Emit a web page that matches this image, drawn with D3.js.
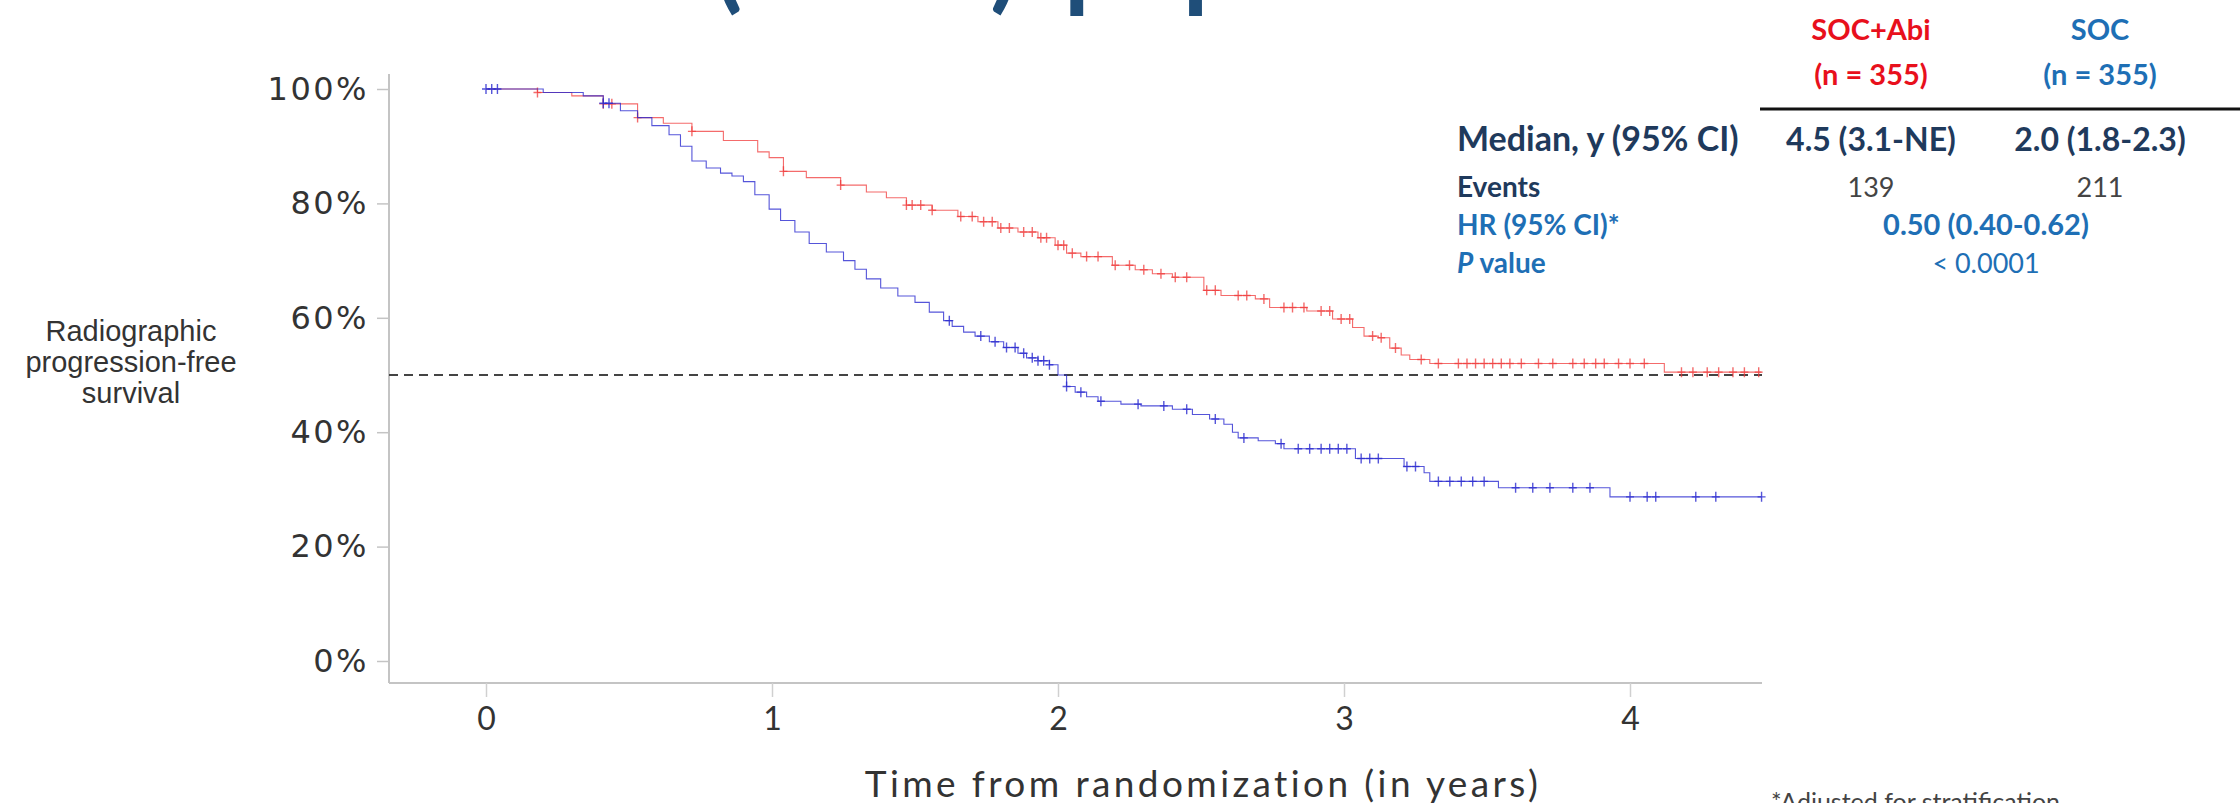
<!DOCTYPE html>
<html>
<head>
<meta charset="utf-8">
<script src="https://cdn.jsdelivr.net/npm/d3@7"></script>
<style>
  html, body { margin: 0; padding: 0; background: #fff; }
  svg { display: block; }
</style>
</head>
<body>
<svg id="chart" width="2240" height="803"></svg>
<script>
// KM curves (time in years, survival fraction)
const abiTimes = [0, 0.18, 0.30, 0.41, 0.53, 0.62, 0.72, 0.83, 0.95, 0.99, 1.04, 1.12, 1.24, 1.33, 1.40, 1.47, 1.56, 1.65, 1.72, 1.79, 1.86, 1.93, 1.99, 2.03, 2.08, 2.19, 2.27, 2.33, 2.40, 2.51, 2.57, 2.69, 2.74, 2.87, 2.96, 3.03, 3.07, 3.12, 3.16, 3.20, 3.23, 3.30, 4.12, 4.46];
const abiSurv  = [1, 0.994, 0.988, 0.974, 0.95, 0.94, 0.926, 0.91, 0.89, 0.88, 0.856, 0.845, 0.832, 0.82, 0.81, 0.797, 0.788, 0.777, 0.768, 0.757, 0.75, 0.74, 0.727, 0.713, 0.707, 0.692, 0.684, 0.677, 0.671, 0.648, 0.639, 0.633, 0.618, 0.612, 0.598, 0.583, 0.568, 0.565, 0.547, 0.535, 0.527, 0.52, 0.505, 0.505];
const abiCensor = [0.18, 0.41, 0.44, 0.53, 0.72, 1.04, 1.24, 1.47, 1.49, 1.52, 1.56, 1.66, 1.70, 1.74, 1.77, 1.80, 1.83, 1.88, 1.91, 1.94, 1.96, 2.0, 2.02, 2.05, 2.1, 2.14, 2.2, 2.25, 2.3, 2.36, 2.41, 2.45, 2.52, 2.55, 2.63, 2.66, 2.72, 2.79, 2.82, 2.86, 2.92, 2.95, 2.99, 3.02, 3.10, 3.13, 3.18, 3.27, 3.33, 3.40, 3.43, 3.46, 3.49, 3.52, 3.55, 3.58, 3.62, 3.68, 3.73, 3.80, 3.84, 3.88, 3.91, 3.96, 4.0, 4.05, 4.18, 4.22, 4.27, 4.31, 4.36, 4.40, 4.45];

const socTimes = [0, 0.20, 0.34, 0.41, 0.47, 0.53, 0.58, 0.64, 0.68, 0.72, 0.77, 0.82, 0.86, 0.90, 0.94, 0.99, 1.03, 1.08, 1.13, 1.19, 1.25, 1.29, 1.33, 1.38, 1.44, 1.50, 1.55, 1.60, 1.63, 1.67, 1.71, 1.76, 1.81, 1.86, 1.89, 1.93, 1.97, 2.00, 2.03, 2.06, 2.10, 2.14, 2.22, 2.29, 2.40, 2.47, 2.53, 2.58, 2.61, 2.63, 2.70, 2.76, 2.79, 3.04, 3.21, 3.28, 3.30, 3.54, 3.93, 4.46];
const socSurv  = [1, 0.994, 0.988, 0.975, 0.962, 0.95, 0.936, 0.92, 0.90, 0.874, 0.862, 0.853, 0.848, 0.838, 0.815, 0.79, 0.77, 0.75, 0.73, 0.715, 0.70, 0.685, 0.668, 0.652, 0.638, 0.627, 0.61, 0.595, 0.585, 0.575, 0.568, 0.558, 0.548, 0.538, 0.53, 0.525, 0.518, 0.50, 0.48, 0.47, 0.462, 0.454, 0.449, 0.446, 0.44, 0.431, 0.423, 0.414, 0.40, 0.39, 0.385, 0.38, 0.371, 0.354, 0.34, 0.329, 0.314, 0.303, 0.287, 0.287];
const socCensor = [0.0, 0.02, 0.04, 0.41, 0.43, 1.62, 1.73, 1.78, 1.82, 1.85, 1.88, 1.91, 1.93, 1.95, 1.97, 2.03, 2.08, 2.15, 2.28, 2.37, 2.45, 2.55, 2.65, 2.78, 2.84, 2.88, 2.92, 2.95, 2.98, 3.01, 3.06, 3.09, 3.12, 3.22, 3.25, 3.33, 3.37, 3.41, 3.45, 3.49, 3.60, 3.66, 3.72, 3.80, 3.86, 4.0, 4.06, 4.09, 4.23, 4.30, 4.46];

const xTicks = [0, 1, 2, 3, 4];
const yTicks = [0, 0.2, 0.4, 0.6, 0.8, 1.0];
const medianLine = 0.5;

const tableHead = ["SOC+Abi", "SOC"];
const tableN = ["(n = 355)", "(n = 355)"];
const medians = ["4.5 (3.1-NE)", "2.0 (1.8-2.3)"];
const events = ["139", "211"];
const hrText = "0.50 (0.40-0.62)";
const pText = "< 0.0001";

const red = "#e8101c", blue = "#1e6fb5", navy = "#1f3a5c";

const svg = d3.select("#chart");
svg.append("rect").attr("width", 2240).attr("height", 803).attr("fill", "#fff");

const x = d3.scaleLinear().domain([0, 4]).range([486, 1630]);
const y = d3.scaleLinear().domain([0, 1]).range([661, 89]);
const axLeft = 389, axRight = 1762, axTop = 74, axBottom = 683;

// cut-off title at the very top: only the descenders show
const title = svg.append("g").attr("fill", "#1f4e79")
  .style("font-family", "Lato").style("font-weight", "bold").style("font-size", "104px");
title.append("text").attr("x", 680).attr("y", -1).attr("text-anchor", "end").text("rPFS in the low-volume");
const mid = title.append("text").attr("x", 714).attr("y", -1);
mid.append("tspan").text("(");
mid.append("tspan").style("font-size", "46px").text("CHAARTED");
mid.append("tspan").text(")");
title.append("text").attr("x", 1064).attr("y", -1).text("population");

// axes lines
svg.append("line").attr("x1", axLeft).attr("x2", axLeft).attr("y1", axTop).attr("y2", axBottom)
  .attr("stroke", "#c4c4c4").attr("stroke-width", 2);
svg.append("line").attr("x1", axLeft).attr("x2", axRight).attr("y1", axBottom).attr("y2", axBottom)
  .attr("stroke", "#c4c4c4").attr("stroke-width", 2);

// y axis
const yAxis = d3.axisLeft(y).tickValues(yTicks).tickSize(12).tickPadding(8)
  .tickFormat(d3.format(".0%"));
const gy = svg.append("g").attr("transform", `translate(${axLeft},0)`).call(yAxis);
gy.select(".domain").remove();
gy.selectAll(".tick line").attr("stroke", "#c4c4c4").attr("stroke-width", 1.5);
gy.selectAll(".tick text").attr("fill", "#333")
  .style("font-family", "DejaVu Sans").style("font-size", "32px").attr("letter-spacing", "2.5");

// x axis
const xAxis = d3.axisBottom(x).tickValues(xTicks).tickSize(14).tickPadding(10)
  .tickFormat(d3.format("d"));
const gx = svg.append("g").attr("transform", `translate(0,${axBottom})`).call(xAxis);
gx.select(".domain").remove();
gx.selectAll(".tick line").attr("stroke", "#d0d0d0").attr("stroke-width", 1.5);
gx.selectAll(".tick text").attr("fill", "#333")
  .style("font-family", "Lato").style("font-size", "32px");

// axis titles
svg.append("text").attr("x", 1203).attr("y", 797).attr("text-anchor", "middle")
  .attr("fill", "#333").style("font-family", "Lato").style("font-size", "37px")
  .attr("letter-spacing", "3.4").text("Time from randomization (in years)");
const yTitle = svg.append("text").attr("text-anchor", "middle").attr("fill", "#333")
  .style("font-family", "Liberation Sans").style("font-size", "29px");
["Radiographic", "progression-free", "survival"].forEach((s, i) => {
  yTitle.append("tspan").attr("x", 131).attr("y", 341 + i * 31).text(s);
});

// median reference line
svg.append("line").attr("x1", axLeft).attr("x2", axRight)
  .attr("y1", y(medianLine)).attr("y2", y(medianLine))
  .attr("stroke", "#444").attr("stroke-width", 2).attr("stroke-dasharray", "9,6");

// KM curves
const line = d3.line().x(d => x(d[0])).y(d => y(d[1])).curve(d3.curveStepAfter);
const series = [
  { t: abiTimes, s: abiSurv, c: abiCensor, color: "#f03a3a", op: 0.75 },
  { t: socTimes, s: socSurv, c: socCensor, color: "#2b2bd0", op: 0.8 }
];
series.forEach(sr => {
  const pts = sr.t.map((t, i) => [t, sr.s[i]]);
  svg.append("path").datum(pts).attr("d", line).attr("fill", "none")
    .attr("stroke", sr.color).attr("stroke-width", 1.1).attr("opacity", sr.op);
  const survAt = t => sr.s[Math.max(0, d3.bisectRight(sr.t, t) - 1)];
  svg.append("g").selectAll("path").data(sr.c).join("path")
    .attr("transform", d => `translate(${x(d)},${y(survAt(d))})`)
    .attr("d", "M-4,0H4M0,-5V5")
    .attr("stroke", sr.color).attr("stroke-width", 1.4).attr("opacity", sr.op);
});

// summary table
const cols = [1871, 2100];
const tbl = svg.append("g").style("font-family", "Lato");
tableHead.forEach((h, i) => {
  const col = i === 0 ? red : blue;
  tbl.append("text").attr("x", cols[i]).attr("y", 40).attr("text-anchor", "middle")
    .attr("fill", col).style("font-weight", "bold").style("font-size", "29px").text(h);
  tbl.append("text").attr("x", cols[i]).attr("y", 85).attr("text-anchor", "middle")
    .attr("fill", col).style("font-weight", "bold").style("font-size", "29px").text(tableN[i]);
  tbl.append("text").attr("x", cols[i]).attr("y", 151).attr("text-anchor", "middle")
    .attr("fill", navy).style("font-weight", "bold").style("font-size", "32px").text(medians[i]);
  tbl.append("text").attr("x", cols[i]).attr("y", 197).attr("text-anchor", "middle")
    .attr("fill", "#444").style("font-size", "27px").text(events[i]);
});
tbl.append("line").attr("x1", 1760).attr("x2", 2240).attr("y1", 109).attr("y2", 109)
  .attr("stroke", "#111").attr("stroke-width", 3);
tbl.append("text").attr("x", 1457).attr("y", 151).attr("fill", navy)
  .style("font-weight", "bold").style("font-size", "34px").text("Median, y (95% CI)");
tbl.append("text").attr("x", 1457).attr("y", 197).attr("fill", navy)
  .style("font-weight", "bold").style("font-size", "28px").text("Events");
tbl.append("text").attr("x", 1457).attr("y", 235).attr("fill", blue)
  .style("font-weight", "bold").style("font-size", "28px").text("HR (95% CI)*");
const pv = tbl.append("text").attr("x", 1457).attr("y", 273).attr("fill", blue)
  .style("font-weight", "bold").style("font-size", "28px");
pv.append("tspan").style("font-style", "italic").text("P");
pv.append("tspan").text(" value");
tbl.append("text").attr("x", 1986).attr("y", 235).attr("text-anchor", "middle").attr("fill", blue)
  .style("font-weight", "bold").style("font-size", "29px").text(hrText);
tbl.append("text").attr("x", 1986).attr("y", 273).attr("text-anchor", "middle").attr("fill", blue)
  .style("font-size", "27px").text(pText);

// footnote cut at bottom
svg.append("text").attr("x", 1771).attr("y", 811).attr("fill", "#444")
  .style("font-family", "Lato").style("font-size", "25px").text("*Adjusted for stratification");
</script>
</body>
</html>
